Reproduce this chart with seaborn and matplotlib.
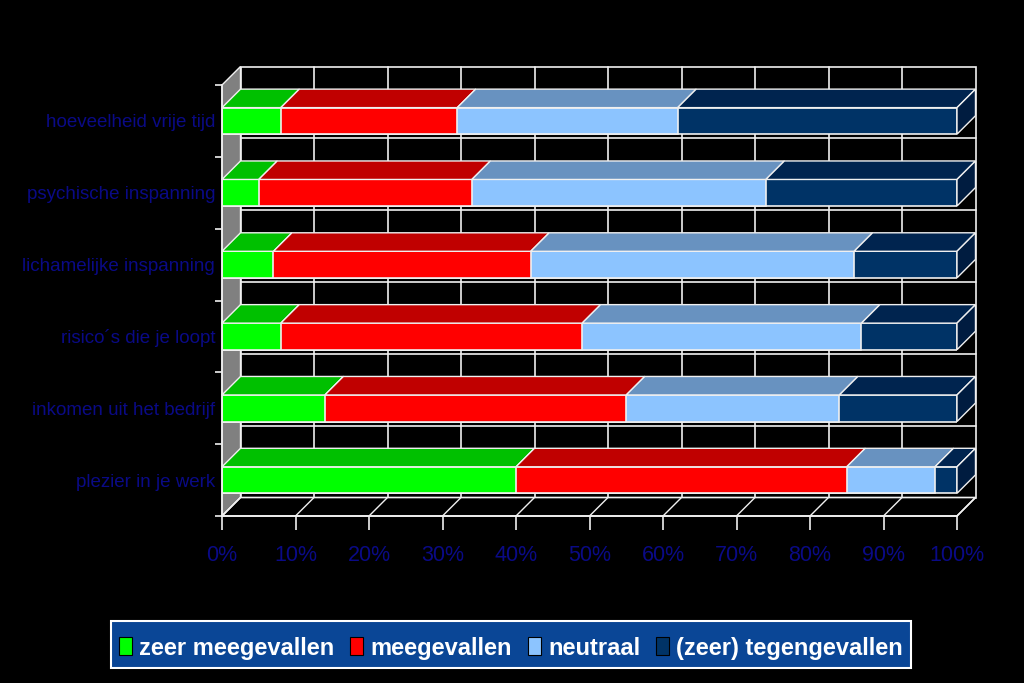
import numpy as np
import matplotlib
matplotlib.use("Agg")
import matplotlib.pyplot as plt
from matplotlib.patches import Polygon, Rectangle
import pandas as pd
import seaborn as sns

# ── data (percentages per category, top row first) ───────────────────────────
categories = [
    "hoeveelheid vrije tijd",
    "psychische inspanning",
    "lichamelijke inspanning",
    "risico´s die je loopt",
    "inkomen uit het bedrijf",
    "plezier in je werk",
]
zeer_meegevallen = [8, 5, 7, 8, 14, 40]
meegevallen = [24, 29, 35, 41, 41, 45]
neutraal = [30, 40, 44, 38, 29, 12]
tegengevallen = [38, 26, 14, 13, 16, 3]

series_names = ["zeer meegevallen", "meegevallen", "neutraal", "(zeer) tegengevallen"]
x_ticks = list(range(0, 101, 10))
x_labels = [f"{t}%" for t in x_ticks]

# ── styling ──────────────────────────────────────────────────────────────────
front_cols = ["#00FF00", "#FF0000", "#8CC4FF", "#003366"]
top_cols = ["#00C000", "#C00000", "#6892C0", "#00244F"]
side_col = "#001C40"
navy = "#0A0A86"
edge = "#F0F0F0"

sns.set_theme(style="white")
plt.rcParams["font.family"] = ["Liberation Sans", "DejaVu Sans"]

fig = plt.figure(figsize=(10.24, 6.83), dpi=100, facecolor="black")
W, H = 1024, 683
ax = fig.add_axes([222 / W, 1 - 516 / H, 735 / W, 431 / H])
ax.set_facecolor("black")

bar_h = 0.37
dx = 18.5 / 7.35          # depth offset in x data units
dy = 18.5 / (431 / 6)     # depth offset in y data units

df = pd.DataFrame({
    "cat": categories,
    "s0": zeer_meegevallen,
    "s1": meegevallen,
    "s2": neutraal,
    "s3": tegengevallen,
})
cols = ["s0", "s1", "s2", "s3"]
cum = df[cols].cumsum(axis=1)

# back wall, left wall and floor
ylo, yhi = -0.5, 5.5
ax.add_patch(Polygon([(dx, ylo - dy), (100 + dx, ylo - dy), (100 + dx, yhi - dy), (dx, yhi - dy)],
                     closed=True, fc="black", ec=edge, lw=1.2, zorder=0.2, clip_on=False))
for t in x_ticks[1:-1]:
    ax.plot([t + dx, t + dx], [ylo - dy, yhi - dy], color=edge, lw=1.2, zorder=0.3, clip_on=False)
for b in np.arange(0.5, 5.0, 1.0):
    ax.plot([dx, 100 + dx], [b - dy, b - dy], color=edge, lw=1.2, zorder=0.3, clip_on=False)
ax.add_patch(Polygon([(0, ylo), (dx, ylo - dy), (dx, yhi - dy), (0, yhi)],
                     closed=True, fc="#808080", ec=edge, lw=1.0, zorder=0.4, clip_on=False))
ax.add_patch(Polygon([(0, yhi), (100, yhi), (100 + dx, yhi - dy), (dx, yhi - dy)],
                     closed=True, fc="black", ec=edge, lw=1.2, zorder=0.4, clip_on=False))
for t in x_ticks:
    ax.plot([t, t + dx], [yhi, yhi - dy], color=edge, lw=1.0, zorder=0.5, clip_on=False)

# front faces: cumulative bars, longest first
for k in range(3, -1, -1):
    sns.barplot(x=cum[cols[k]], y=df["cat"], orient="h", color=front_cols[k],
                saturation=1, width=bar_h, edgecolor=edge, linewidth=1.2, ax=ax, zorder=2)

# top faces and end face
for i in range(len(categories)):
    top = i - bar_h / 2
    bot = i + bar_h / 2
    left = 0
    for k in range(4):
        right = cum.loc[i, cols[k]]
        ax.add_patch(Polygon([(left, top), (right, top), (right + dx, top - dy), (left + dx, top - dy)],
                             closed=True, fc=top_cols[k], ec=edge, lw=1.0, zorder=2.5, clip_on=False))
        left = right
    ax.add_patch(Polygon([(left, bot), (left, top), (left + dx, top - dy), (left + dx, bot - dy)],
                         closed=True, fc=side_col, ec=edge, lw=1.0, zorder=2.5, clip_on=False))

ax.set_xlim(0, 100)
ax.set_ylim(yhi, ylo)
ax.set_xlabel("")
ax.set_ylabel("")

for s in ["top", "right"]:
    ax.spines[s].set_visible(False)
for s in ["left", "bottom"]:
    ax.spines[s].set_color(edge)
    ax.spines[s].set_linewidth(1.2)
    ax.spines[s].set_zorder(3)

ax.set_xticks(x_ticks)
ax.set_xticklabels(x_labels, color=navy, fontsize=15.5)
ax.tick_params(axis="x", length=10, width=1.2, color=edge, pad=11, bottom=True)
ax.set_yticks(range(len(categories)))
ax.set_yticklabels(categories, color=navy, fontsize=13.5)
ax.tick_params(axis="y", length=0, pad=5)
ax.set_yticks(np.arange(-0.5, 6.0, 1.0), minor=True)
ax.tick_params(axis="y", which="minor", length=5, width=1.2, color=edge, left=True)

# ── legend, laid out by hand so all labels share one baseline ───────────────
renderer = fig.canvas.get_renderer()
px = fig.transFigure.inverted()          # pixels -> figure fraction
to_fig = lambda x, y: px.transform((x, H - y))

base_y = 655                             # text baseline (pixels from top)
mark_w, mark_h, mark_gap, item_gap = 13, 18, 7, 16
items = []
total = 0
for name, c in zip(series_names, front_cols):
    t = fig.text(0, 0, name, color="white", fontsize=17, fontweight="bold", va="baseline")
    w = t.get_window_extent(renderer).width
    items.append((t, c, w))
    total += mark_w + mark_gap + w
total += item_gap * (len(items) - 1)

x = 511 - total / 2
box_l, box_r = x - 8, x + total + 8
fx, fy = to_fig(box_l, 668)
fx2, fy2 = to_fig(box_r, 621)
fig.add_artist(Rectangle((fx, fy), fx2 - fx, fy2 - fy, transform=fig.transFigure,
                         fc="#0A4696", ec="white", lw=1.5, zorder=5))
for t, c, w in items:
    mx, my = to_fig(x, base_y)
    mx2, my2 = to_fig(x + mark_w, base_y - mark_h)
    fig.add_artist(Rectangle((mx, my), mx2 - mx, my2 - my, transform=fig.transFigure,
                             fc=c, ec="black", lw=0.8, zorder=6))
    tx, ty = to_fig(x + mark_w + mark_gap, base_y)
    t.set_position((tx, ty))
    t.set_zorder(6)
    x += mark_w + mark_gap + w + item_gap

fig.savefig("out.png", dpi=100, facecolor="black")
